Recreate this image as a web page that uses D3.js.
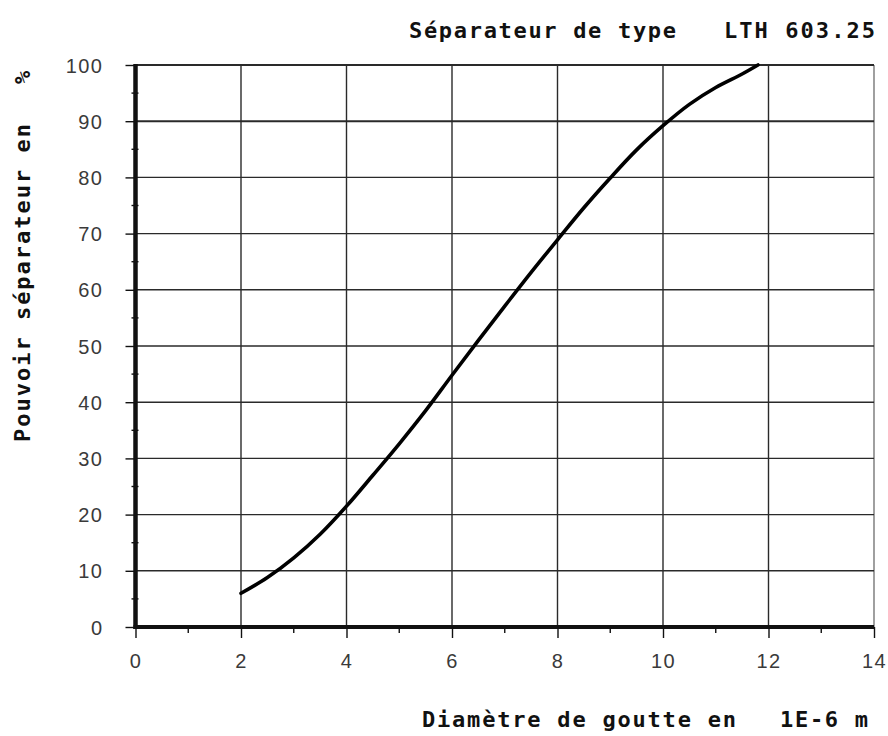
<!DOCTYPE html>
<html>
<head>
<meta charset="utf-8">
<script src="https://cdn.jsdelivr.net/npm/d3@7"></script>
<style>
  html, body { margin: 0; padding: 0; background: #fff; }
  svg { display: block; }
</style>
</head>
<body>
<svg id="chart" width="888" height="736"></svg>
<script>
// Separation efficiency curve of the LTH 603.25 separator
const diameters = [2, 2.5, 3, 3.5, 4, 4.5, 5, 5.5, 6, 6.5, 7, 7.5, 8, 8.5, 9, 9.5, 10, 10.5, 11, 11.5, 11.8];
const efficiency = [6.0, 8.8, 12.3, 16.5, 21.5, 27.0, 32.6, 38.5, 44.8, 51.0, 57.1, 63.1, 68.9, 74.6, 79.9, 84.9, 89.2, 93.0, 96.0, 98.4, 100];
const xTicks = [0, 2, 4, 6, 8, 10, 12, 14];
const yTicks = [0, 10, 20, 30, 40, 50, 60, 70, 80, 90, 100];
const xMinor = [1, 3, 5, 7, 9, 11, 13];
const yMinor = [5, 15, 25, 35, 45, 55, 65, 75, 85, 95];
const titleLeft = "Séparateur de type";
const titleRight = "LTH 603.25";
const xLabelLeft = "Diamètre de goutte en";
const xLabelRight = "1E-6 m";
const yLabelText = "Pouvoir séparateur en";
const yLabelUnit = "%";

const svg = d3.select("#chart");
const plotL = 135.5, plotR = 874, plotT = 65, plotB = 627;

const x = d3.scaleLinear().domain([0, 14]).range([plotL, plotR]);
const y = d3.scaleLinear().domain([0, 100]).range([plotB, plotT]);

const mono = "'DejaVu Sans Mono', 'Liberation Mono', monospace";
const ink = "#111";

// grid
const grid = svg.append("g").attr("stroke", "#2a2a2a").attr("stroke-width", 1.4);
grid.selectAll("line.v").data(xTicks.filter(d => d > 0)).join("line")
  .attr("class", "v")
  .attr("x1", d => x(d)).attr("x2", d => x(d))
  .attr("y1", y(100)).attr("y2", y(0))
  .attr("stroke", d => d === 14 ? "#777" : "#2a2a2a");
grid.selectAll("line.h").data(yTicks.filter(d => d > 0)).join("line")
  .attr("class", "h")
  .attr("x1", x(0)).attr("x2", x(14))
  .attr("y1", d => y(d)).attr("y2", d => y(d))
  .attr("stroke-width", d => (d === 100 || d === 90) ? 2 : 1.4);

// y axis
const yAxis = d3.axisLeft(y).tickValues(yTicks).tickSize(10).tickPadding(22);
const gy = svg.append("g").attr("transform", `translate(${plotL},0)`).call(yAxis);
gy.select(".domain").remove();
gy.selectAll(".tick line").attr("stroke", ink).attr("stroke-width", 1.4);
gy.selectAll(".tick text")
  .attr("font-family", "'Liberation Sans', Arial, sans-serif")
  .attr("font-size", 20).attr("fill", "#3a3a3a")
  .attr("letter-spacing", "1.5px")
  .attr("dy", "0.35em");

// x axis
const xAxis = d3.axisBottom(x).tickValues(xTicks).tickSize(11).tickPadding(16);
const gx = svg.append("g").attr("transform", `translate(0,${plotB})`).call(xAxis);
gx.select(".domain").remove();
gx.selectAll(".tick line").attr("stroke", ink).attr("stroke-width", 1.4);
gx.selectAll(".tick text")
  .attr("font-family", "'Liberation Sans', Arial, sans-serif")
  .attr("font-size", 20).attr("fill", "#3a3a3a")
  .attr("letter-spacing", "1.5px");

// minor ticks
svg.append("g").selectAll("line").data(xMinor).join("line")
  .attr("x1", d => x(d)).attr("x2", d => x(d))
  .attr("y1", plotB).attr("y2", plotB + 6)
  .attr("stroke", ink).attr("stroke-width", 1.4);
svg.append("g").selectAll("line").data(yMinor).join("line")
  .attr("x1", plotL - 4).attr("x2", plotL + 3)
  .attr("y1", d => y(d)).attr("y2", d => y(d))
  .attr("stroke", ink).attr("stroke-width", 1.4);

// heavy axis lines
svg.append("line").attr("x1", plotL).attr("x2", plotL).attr("y1", plotT - 1).attr("y2", plotB + 2)
  .attr("stroke", ink).attr("stroke-width", 4.5);
svg.append("line").attr("x1", plotL - 2).attr("x2", plotR).attr("y1", plotB).attr("y2", plotB)
  .attr("stroke", ink).attr("stroke-width", 4);

// curve
const line = d3.line().x(d => x(d)).y((d, i) => y(efficiency[i])).curve(d3.curveCatmullRom.alpha(0.5));
svg.append("path").datum(diameters).attr("d", line)
  .attr("fill", "none").attr("stroke", "#000").attr("stroke-width", 3.6)
  .attr("stroke-linecap", "round");

// texts
function monoText(str, xs, ys, len) {
  return svg.append("text")
    .attr("x", xs).attr("y", ys)
    .attr("font-family", mono).attr("font-weight", "bold")
    .attr("font-size", 22).attr("fill", ink)
    .attr("textLength", len).attr("lengthAdjust", "spacing")
    .text(str);
}
monoText(titleLeft, 409, 38, 267);
monoText(titleRight, 724, 38, 151);
monoText(xLabelLeft, 422, 727, 314);
monoText(xLabelRight, 780, 727, 88);

const gyl = svg.append("g").attr("transform", "translate(30,0) rotate(-90)");
gyl.append("text").attr("x", -442).attr("y", 0)
  .attr("font-family", mono).attr("font-weight", "bold")
  .attr("font-size", 22).attr("fill", ink)
  .attr("textLength", 318).attr("lengthAdjust", "spacing")
  .text(yLabelText);
gyl.append("text").attr("x", -84).attr("y", 0)
  .attr("font-family", mono).attr("font-weight", "bold")
  .attr("font-size", 22).attr("fill", ink)
  .text(yLabelUnit);
</script>
</body>
</html>
